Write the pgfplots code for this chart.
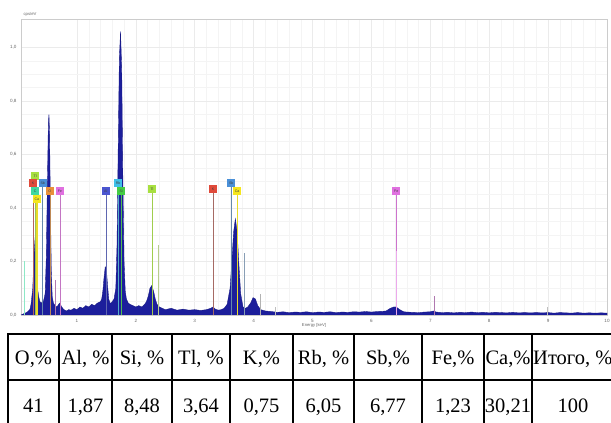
\documentclass[border=0pt]{standalone}
\usepackage{fontspec}
\setmainfont{Liberation Serif}
\newfontfamily\chartfont{Liberation Sans}
\usepackage{pgfplots}
\pgfplotsset{compat=1.18}

\definecolor{spec}{RGB}{28,30,155}
\definecolor{cTl}{RGB}{168,224,64}
\definecolor{cK}{RGB}{224,74,58}
\definecolor{cC}{RGB}{64,216,160}
\definecolor{cCa}{RGB}{245,230,30}
\definecolor{cSb}{RGB}{74,144,216}
\definecolor{cO}{RGB}{232,144,58}
\definecolor{cFe}{RGB}{224,112,224}
\definecolor{cAl}{RGB}{74,85,208}
\definecolor{cRb}{RGB}{64,192,232}
\definecolor{cSi}{RGB}{68,204,68}

% element label box
\newcommand{\elbox}[4]{\node[fill=#4, inner sep=0.4pt, minimum width=8pt, minimum height=8pt,
  font=\chartfont\fontsize{3.6}{4}\selectfont, text=black!75] at (axis cs:#1,#2) {#3};}

\begin{document}
\begin{tikzpicture}[x=1pt,y=1pt]
\path[use as bounding box, clip] (0,0) rectangle (611,423);

\begin{axis}[
    at={(21pt,108pt)}, anchor=south west,
    scale only axis, width=586pt, height=295.6pt,
    xmin=0.05, xmax=10, ymin=0, ymax=1.105,
    xtick={1,2,...,10}, ytick={0,0.2,0.4,0.6,0.8,1.0},
    minor x tick num=4, minor y tick num=3,
    grid=both,
    major grid style={gray!16, line width=0.5pt},
    minor grid style={gray!9, line width=0.4pt},
    axis line style={gray!40, line width=0.5pt},
    major tick length=0pt, minor tick length=0pt,
    /pgf/number format/assume math mode=true,
    ticklabel style={font=\chartfont\fontsize{4.6}{5}\selectfont, text=gray!80!black},
    yticklabel style={/pgf/number format/use comma, /pgf/number format/fixed,
      /pgf/number format/fixed zerofill, /pgf/number format/precision=1, xshift=-1pt},
    xticklabel style={yshift=-1pt},
    xlabel={Energy [keV]},
    xlabel style={font=\chartfont\fontsize{4.2}{5}\selectfont, text=gray!80!black,
      at={(axis description cs:0.5,0)}, anchor=center, yshift=-10pt, inner sep=0pt},
    ylabel={cps/eV},
    ylabel style={font=\chartfont\fontsize{4.2}{5}\selectfont, text=gray!80!black, rotate=-90,
      at={(axis description cs:0,1)}, anchor=center, xshift=9pt, yshift=4.8pt, inner sep=0pt},
    clip=true,
]
% spectrum
\addplot[fill=spec, draw=spec!85!black, line width=0.35pt] coordinates {
(0.05,0) (0.10,0.005) (0.15,0.01) (0.20,0.02)
(0.22,0.04) (0.25,0.10) (0.27,0.22) (0.29,0.29) (0.31,0.20) (0.33,0.10) (0.35,0.07) (0.37,0.05) (0.40,0.045) (0.43,0.05)
(0.46,0.08) (0.48,0.22) (0.50,0.52) (0.515,0.72) (0.525,0.75) (0.535,0.68) (0.55,0.40) (0.565,0.16) (0.58,0.07) (0.60,0.045) (0.63,0.035)
(0.66,0.03) (0.69,0.04) (0.71,0.045) (0.74,0.03) (0.78,0.02) (0.82,0.015) (0.86,0.02) (0.90,0.018) (0.95,0.025) (1.00,0.02)
(1.05,0.03) (1.10,0.025) (1.15,0.035) (1.20,0.03) (1.25,0.04) (1.30,0.035) (1.35,0.045) (1.40,0.05)
(1.42,0.06) (1.44,0.09) (1.46,0.14) (1.48,0.18) (1.50,0.17) (1.52,0.11) (1.54,0.06) (1.56,0.045) (1.58,0.045) (1.60,0.05) (1.63,0.06)
(1.66,0.10) (1.68,0.26) (1.70,0.62) (1.72,0.96) (1.74,1.06) (1.76,0.92) (1.78,0.50) (1.80,0.20) (1.82,0.09) (1.84,0.06)
(1.87,0.045) (1.90,0.04) (1.95,0.035) (2.00,0.03) (2.05,0.035) (2.10,0.03) (2.15,0.04)
(2.18,0.05) (2.21,0.07) (2.24,0.10) (2.27,0.11) (2.30,0.09) (2.33,0.06) (2.36,0.04) (2.40,0.03) (2.45,0.025) (2.50,0.02)
(2.60,0.025) (2.70,0.018) (2.80,0.022) (2.90,0.018) (3.00,0.02) (3.10,0.017) (3.20,0.02)
(3.27,0.025) (3.31,0.03) (3.35,0.022) (3.40,0.018) (3.45,0.02) (3.50,0.025)
(3.55,0.04) (3.60,0.10) (3.63,0.20) (3.66,0.31) (3.69,0.36) (3.72,0.31) (3.75,0.19) (3.78,0.08) (3.82,0.03) (3.86,0.025) (3.90,0.03)
(3.95,0.045) (3.99,0.065) (4.03,0.06) (4.07,0.035) (4.12,0.02) (4.20,0.015)
(4.3,0.013) (4.4,0.010) (4.5,0.012) (4.6,0.009) (4.7,0.011) (4.8,0.010) (4.9,0.012) (5.0,0.009) (5.1,0.011) (5.2,0.010)
(5.3,0.012) (5.4,0.009) (5.5,0.011) (5.6,0.010) (5.7,0.012) (5.8,0.011) (5.9,0.013) (6.0,0.011) (6.1,0.013) (6.2,0.014)
(6.25,0.015) (6.32,0.025) (6.38,0.03) (6.42,0.03) (6.48,0.02) (6.55,0.012)
(6.6,0.011) (6.7,0.010) (6.8,0.009) (6.9,0.011) (7.0,0.012) (7.05,0.015) (7.1,0.011) (7.2,0.009) (7.3,0.010) (7.4,0.008)
(7.5,0.010) (7.6,0.009) (7.7,0.011) (7.8,0.009) (7.9,0.010) (8.0,0.008) (8.1,0.010) (8.2,0.009) (8.3,0.008) (8.4,0.010)
(8.5,0.008) (8.6,0.009) (8.7,0.008) (8.8,0.009) (8.9,0.008) (9.0,0.009) (9.1,0.007) (9.2,0.009) (9.3,0.008) (9.4,0.007)
(9.5,0.009) (9.6,0.007) (9.7,0.008) (9.8,0.007) (9.9,0.008) (10.0,0.007)
} \closedcycle;

% minor element lines
\addplot[cC!60, line width=0.6pt] coordinates {(0.10,0) (0.10,0.20)};
\addplot[cFe!50!gray, line width=0.6pt] coordinates {(0.63,0) (0.63,0.13)};
\addplot[cTl!60!gray!70, line width=0.6pt] coordinates {(2.38,0) (2.38,0.26)};
\addplot[cSb!40!gray!80, line width=0.6pt] coordinates {(3.85,0) (3.85,0.23)};
\addplot[gray!60, line width=0.5pt] coordinates {(4.11,0) (4.11,0.08)};
\addplot[gray!50, line width=0.5pt] coordinates {(4.36,0) (4.36,0.03)};
\addplot[cFe!50!gray, line width=0.5pt] coordinates {(7.06,0) (7.06,0.07)};
\addplot[gray!50, line width=0.5pt] coordinates {(8.98,0) (8.98,0.03)};

% label lines
\addplot[cK!50!gray, line width=0.6pt] coordinates {(0.255,0) (0.255,0.48)};
\addplot[cTl!70!gray, line width=0.6pt] coordinates {(0.29,0) (0.29,0.45)};
\addplot[cCa!90!gray, line width=1.2pt] coordinates {(0.32,0) (0.32,0.42)};
\addplot[cSb!50!gray, line width=0.6pt] coordinates {(0.42,0) (0.42,0.48)};
\addplot[cO!60!gray, line width=0.6pt] coordinates {(0.54,0) (0.54,0.45)};
\addplot[cFe!70!gray, line width=0.6pt] coordinates {(0.71,0) (0.71,0.45)};
\addplot[cAl!60!gray, line width=0.6pt] coordinates {(1.49,0) (1.49,0.45)};
\addplot[cRb!70!gray, line width=0.6pt] coordinates {(1.70,0) (1.70,0.48)};
\addplot[cSi!80!gray, line width=0.6pt] coordinates {(1.75,0) (1.75,0.45)};
\addplot[cTl!80!gray, line width=0.6pt] coordinates {(2.275,0) (2.275,0.455)};
\addplot[cK!40!gray, line width=0.6pt] coordinates {(3.31,0) (3.31,0.455)};
\addplot[cSb!50!gray, line width=0.6pt] coordinates {(3.62,0) (3.62,0.48)};
\addplot[cCa!90!gray, line width=0.6pt] coordinates {(3.72,0) (3.72,0.45)};
\addplot[cFe!80!gray, line width=0.7pt] coordinates {(6.42,0) (6.42,0.45)};
\addplot[cFe!60, line width=1.2pt] coordinates {(6.42,0) (6.42,0.24)};

% labels
\elbox{0.29}{0.52}{Tl}{cTl}
\elbox{0.255}{0.493}{K}{cK}
\elbox{0.29}{0.464}{C}{cC}
\elbox{0.32}{0.434}{Ca}{cCa}
\elbox{0.42}{0.493}{Sb}{cSb}
\elbox{0.54}{0.464}{O}{cO}
\elbox{0.71}{0.464}{Fe}{cFe}
\elbox{1.49}{0.464}{Al}{cAl}
\elbox{1.70}{0.493}{Rb}{cRb}
\elbox{1.75}{0.464}{Si}{cSi}
\elbox{2.275}{0.47}{Tl}{cTl}
\elbox{3.31}{0.47}{K}{cK}
\elbox{3.62}{0.493}{Sb}{cSb}
\elbox{3.72}{0.464}{Ca}{cCa}
\elbox{6.42}{0.464}{Fe}{cFe}
\end{axis}

% composition table
\draw[line width=1.5pt] (8,89) -- (625,89);
\draw[line width=1.5pt] (8,43) -- (625,43);
\foreach \xx in {8,59,112,172,230,293,354,422,484,532}
  \draw[line width=1.5pt] (\xx,89.75) -- (\xx,-5);
\begin{scope}[every node/.style={font=\fontsize{20.5}{22}\selectfont, anchor=base, inner sep=0pt}]
\node at (33.5,58) {O,\%};
\node at (85.5,58) {Al, \%};
\node at (142,58) {Si, \%};
\node at (201,58) {Tl, \%};
\node at (261.5,58) {K,\%};
\node at (323.5,58) {Rb, \%};
\node at (388,58) {Sb,\%};
\node at (453,58) {Fe,\%};
\node at (508,58) {Ca,\%};
\node[anchor=base west] at (533,58) {Итого, \%};
\node at (33.5,10) {41};
\node at (85.5,10) {1,87};
\node at (142,10) {8,48};
\node at (201,10) {3,64};
\node at (261.5,10) {0,75};
\node at (323.5,10) {6,05};
\node at (388,10) {6,77};
\node at (453,10) {1,23};
\node at (508,10) {30,21};
\node at (573,10) {100};
\end{scope}
\end{tikzpicture}
\end{document}
